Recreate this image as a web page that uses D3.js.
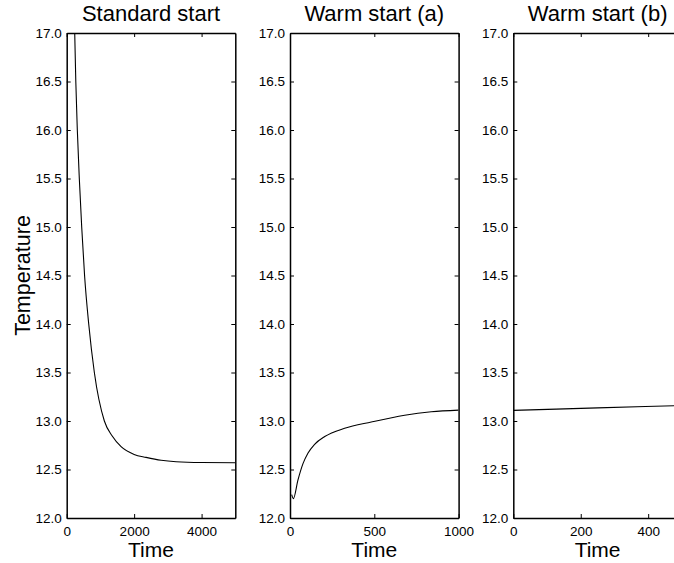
<!DOCTYPE html>
<html>
<head>
<meta charset="utf-8">
<script src="https://cdn.jsdelivr.net/npm/d3@7"></script>
<style>
  body { margin: 0; background: #fff; }
  svg { display: block; font-family: "Liberation Sans", Arial, Helvetica, sans-serif; }
</style>
</head>
<body>
<div id="chart"></div>
<script>
// Panel titles and x ranges
const panelTitles = ["Standard start", "Warm start (a)", "Warm start (b)"];
const panelXMax = [5000, 1000, 500];
const panelXTicks = [[0, 2000, 4000], [0, 500, 1000], [0, 200, 400]];
const yTicks = [12.0, 12.5, 13.0, 13.5, 14.0, 14.5, 15.0, 15.5, 16.0, 16.5, 17.0];

// Standard start (curve starts above the visible range)
const standardTime = [0, 120, 238, 270, 315, 374, 445, 530, 653, 820, 1117, 1350, 1613, 2000, 2355, 2800, 3246, 4000, 5000];
const standardTemp = [21.5, 18.8, 17.0, 16.5, 16.0, 15.5, 15.0, 14.5, 14.0, 13.5, 13.0, 12.845, 12.735, 12.655, 12.625, 12.595, 12.58, 12.572, 12.57];

// Warm start (a)
const warmATime = [10, 20, 47, 77, 107, 146, 206, 324, 482, 680, 838, 1000];
const warmATemp = [12.24, 12.2, 12.39, 12.56, 12.67, 12.76, 12.84, 12.925, 12.99, 13.06, 13.095, 13.112];

// Warm start (b)
const warmBTime = [0, 250, 500];
const warmBTemp = [13.11, 13.135, 13.16];

const series = [
  { t: standardTime, v: standardTemp },
  { t: warmATime, v: warmATemp },
  { t: warmBTime, v: warmBTemp }
];

const W = 674, H = 563;
const plotTop = 33, plotBottom = 518;
const firstLeft = 66.7, panelW = 168.6, panelStep = 223.3;

const svg = d3.select("#chart").append("svg")
  .attr("width", W)
  .attr("height", H);

const y = d3.scaleLinear().domain([12, 17]).range([plotBottom, plotTop]);

panelTitles.forEach((title, i) => {
  const left = firstLeft + i * panelStep;
  const x = d3.scaleLinear().domain([0, panelXMax[i]]).range([0, panelW]);
  const g = svg.append("g").attr("transform", `translate(${left},0)`);

  // clip for the curve
  svg.append("clipPath").attr("id", "clip" + i)
    .append("rect")
    .attr("x", 0).attr("y", plotTop)
    .attr("width", panelW).attr("height", plotBottom - plotTop);

  const pts = series[i].t.map((t, j) => [t, series[i].v[j]]);
  g.append("path")
    .datum(pts)
    .attr("clip-path", `url(#clip${i})`)
    .attr("fill", "none")
    .attr("stroke", "#000")
    .attr("stroke-width", 1.1)
    .attr("d", d3.line()
      .x(d => x(d[0]))
      .y(d => y(d[1]))
      .curve(d3.curveMonotoneX));

  // Axes, ticks pointing inward
  const styleAxis = sel => {
    sel.select(".domain").attr("stroke-width", 1.5);
    sel.selectAll(".tick line").attr("stroke-width", 1);
    sel.selectAll("text").attr("font-size", 13.5).attr("fill", "#000");
  };

  g.append("g")
    .attr("transform", `translate(0,${plotBottom})`)
    .call(d3.axisBottom(x).tickValues(panelXTicks[i]).tickSizeInner(-4).tickSizeOuter(0).tickPadding(8).tickFormat(d3.format("d")))
    .call(styleAxis);

  g.append("g")
    .attr("transform", `translate(0,${plotTop})`)
    .call(d3.axisTop(x).tickValues(panelXTicks[i]).tickSizeInner(-4).tickSizeOuter(0).tickFormat(""))
    .call(styleAxis);

  g.append("g")
    .call(d3.axisLeft(y).tickValues(yTicks).tickSizeInner(-4).tickSizeOuter(0).tickPadding(5).tickFormat(d3.format(".1f")))
    .call(styleAxis);

  g.append("g")
    .attr("transform", `translate(${panelW},0)`)
    .call(d3.axisRight(y).tickValues(yTicks).tickSizeInner(-4).tickSizeOuter(0).tickFormat(""))
    .call(styleAxis);

  // Title
  g.append("text")
    .attr("x", panelW / 2)
    .attr("y", 20.5)
    .attr("text-anchor", "middle")
    .attr("font-size", 22)
    .text(title);

  // x label
  g.append("text")
    .attr("x", panelW / 2)
    .attr("y", 556.5)
    .attr("text-anchor", "middle")
    .attr("font-size", 21)
    .text("Time");
});

// y label
svg.append("text")
  .attr("transform", `translate(30,${(plotTop + plotBottom) / 2}) rotate(-90)`)
  .attr("text-anchor", "middle")
  .attr("font-size", 21.5)
  .text("Temperature");
</script>
</body>
</html>
